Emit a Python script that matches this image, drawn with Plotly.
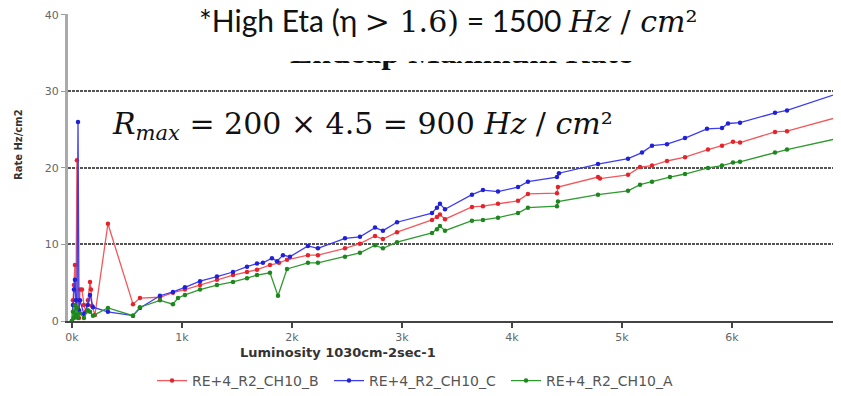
import plotly.graph_objects as go

# ---------------- data ----------------
lumi_B = [0, 9, 18, 27, 36, 45, 55, 64, 73, 91, 109, 127, 145, 164, 173, 182, 209, 327, 555, 618,
          800, 918, 1027, 1164, 1318, 1464, 1591, 1682, 1800, 1882, 1955, 2145, 2236, 2482, 2618,
          2755, 2827, 2955, 3273, 3318, 3345, 3391, 3636, 3736, 3873, 4055, 4145, 4409, 4418,
          4782, 4800, 5055, 5164, 5273, 5409, 5573, 5782, 5909, 6009, 6073, 6391, 6500, 6982]
rate_B = [0, 2.7, 4.7, 7.3, 1.4, 21.0, 2.7, 0.4, 4.1, 4.1, 2.1, 1.2, 2.7, 5.1, 4.1, 2.0, 0.8, 12.7, 2.2, 3.0,
          3.1, 3.7, 4.1, 4.7, 5.4, 6.0, 6.4, 6.7, 7.3, 7.6, 8.0, 8.6, 8.6, 9.5, 10.1,
          11.1, 10.7, 11.6, 13.2, 13.6, 13.9, 13.3, 14.9, 15.0, 15.3, 15.7, 16.6, 16.7, 17.5,
          18.8, 18.6, 19.1, 20.1, 20.3, 20.9, 21.4, 22.4, 22.9, 23.4, 23.3, 24.7, 24.8, 26.7]

lumi_C = [0, 9, 18, 27, 36, 45, 55, 64, 73, 109, 145, 164, 191, 327, 555, 618,
          800, 918, 1027, 1164, 1318, 1464, 1591, 1682, 1736, 1818, 1864, 1918, 1982, 2145, 2236,
          2482, 2618, 2755, 2827, 2955, 3273, 3318, 3345, 3391, 3636, 3736, 3873, 4055, 4145,
          4409, 4427, 4782, 5055, 5182, 5273, 5409, 5573, 5773, 5909, 5964, 6073, 6391, 6500, 6982]
rate_C = [0, 2.1, 4.1, 5.4, 2.7, 1.2, 26.0, 1.4, 2.7, 0.9, 2.1, 3.4, 1.8, 1.2, 0.7, 1.7,
          3.3, 3.8, 4.4, 5.2, 5.8, 6.4, 7.1, 7.5, 7.6, 8.2, 7.8, 8.6, 8.4, 9.8, 9.5,
          10.8, 11.0, 12.2, 11.8, 12.9, 14.1, 14.8, 15.3, 14.6, 16.5, 17.1, 16.9, 17.5, 18.2,
          18.8, 19.3, 20.5, 21.2, 22.0, 22.9, 23.1, 23.9, 25.1, 25.2, 25.8, 25.9, 27.2, 27.5, 29.8]

lumi_A = [0, 9, 18, 27, 36, 45, 55, 73, 109, 145, 164, 191, 327, 555, 618,
          800, 918, 964, 1027, 1164, 1318, 1464, 1591, 1682, 1800, 1873, 1955, 2145, 2236,
          2482, 2618, 2755, 2827, 2955, 3273, 3318, 3345, 3391, 3636, 3736, 3873, 4055, 4145,
          4409, 4418, 4782, 5055, 5164, 5273, 5436, 5573, 5782, 5909, 6009, 6073, 6391, 6500, 6982]
rate_A = [0, 1.2, 0.4, 2.1, 0.8, 1.7, 0.4, 1.0, 0.4, 1.4, 1.2, 0.7, 1.7, 0.7, 1.8,
          2.7, 2.2, 3.0, 3.4, 4.1, 4.7, 5.1, 5.6, 6.0, 6.3, 3.3, 6.8, 7.6, 7.6,
          8.4, 8.9, 9.9, 9.5, 10.3, 11.5, 12.0, 12.4, 11.8, 13.1, 13.2, 13.5, 14.1, 14.8,
          15.0, 15.6, 16.5, 17.0, 17.8, 18.2, 18.8, 19.2, 20.0, 20.3, 20.7, 20.8, 22.0, 22.4, 23.9]

series_names = ["RE+4_R2_CH10_B", "RE+4_R2_CH10_C", "RE+4_R2_CH10_A"]
x_tick_vals = [0, 1000, 2000, 3000, 4000, 5000, 6000]
x_tick_text = ["0k", "1k", "2k", "3k", "4k", "5k", "6k"]
y_tick_vals = [0, 10, 20, 30, 40]

# ---------------- figure ----------------
OFF = 8                      # page body margin offset
W, H = 841 - OFF, 396 - OFF
ML, MR, MT, MB = 68 - OFF, 0, 15 - OFF - 1, 75
PW, PH = W - ML - MR, H - MT - MB


def px(xs):
    """screen x -> paper x"""
    return (xs - OFF - ML) / PW


def py(ys):
    """screen y -> paper y"""
    return (H - MB - (ys - OFF)) / PH


fig = go.Figure()
styles = [
    (lumi_B, rate_B, "#f2585c", "#e3242b"),
    (lumi_C, rate_C, "#3c3cf0", "#2020d8"),
    (lumi_A, rate_A, "#2f9a2f", "#1d861d"),
]
for name, (xs, ys, lc, mc) in zip(series_names, styles):
    fig.add_trace(go.Scatter(
        x=xs, y=ys, name=name, mode="lines+markers",
        line=dict(color=lc, width=1.3),
        marker=dict(color=mc, size=4.5),
    ))

fig.update_layout(
    width=W, height=H,
    margin=dict(l=ML, r=MR, t=MT, b=MB, autoexpand=False),
    paper_bgcolor="white", plot_bgcolor="white",
    showlegend=True,
    legend=dict(
        orientation="h", x=px(152), xanchor="left", y=py(381), yanchor="middle",
        font=dict(family="DejaVu Sans", size=14, color="#555"),
        itemwidth=30, entrywidth=132, entrywidthmode="pixels",
        bgcolor="rgba(0,0,0,0)",
    ),
    xaxis=dict(
        range=[-36, 6991], showgrid=False, zeroline=False,
        showline=True, linecolor="#444", linewidth=2,
        ticks="outside", ticklen=5, tickcolor="#444", tickwidth=1.5,
        tickvals=x_tick_vals, ticktext=x_tick_text,
        tickfont=dict(family="DejaVu Sans", size=11, color="#666"),
        automargin=False,
    ),
    yaxis=dict(
        range=[0, 40.1], showgrid=True, gridcolor="#555", gridwidth=1.6,
        griddash="3px,1px", zeroline=False,
        showline=True, linecolor="#aaa", linewidth=3,
        ticks="outside", ticklen=4, tickcolor="#999",
        tickvals=y_tick_vals,
        tickfont=dict(family="DejaVu Sans", size=11, color="#666"),
        automargin=False,
    ),
)

def note(xs, ys, text, **kw):
    d = dict(x=px(xs), y=py(ys), xref="paper", yref="paper", showarrow=False,
             xanchor="center", yanchor="middle", text=text)
    d.update(kw)
    return d

ann = []
# Axis titles
ann.append(note(338, 352, "<b>Luminosity 1030cm-2sec-1</b>",
                font=dict(family="DejaVu Sans", size=13, color="#333")))
ann.append(note(18, 145, "<b>Rate Hz/cm2</b>", textangle=-90,
                font=dict(family="DejaVu Sans", size=10, color="#333")))
# Chart title (partly hidden behind the text box)
ann.append(note(461, 51, "<b>Endcap Maximum Rate</b>",
                font=dict(family="Liberation Serif", size=33.5, color="#111")))
# White text box covering the top of the chart
ann.append(note(462, 30.5, " ", width=585, height=61, bgcolor="white",
                borderpad=0, borderwidth=0))
serif = "font-family:'DejaVu Serif'"
ann.append(note(448, 20,
                "*High Eta (η <span style=\"" + serif + "\">&gt; 1.6)</span> = 1500 "
                "<span style=\"" + serif + "\"><i>Hz</i> / <i>cm</i>²</span>",
                font=dict(family="Lato", size=30, color="#111")))
ann.append(note(362, 125,
                "<i>R</i><sub><i>max</i></sub> = 200 × 4.5 = 900 <i>Hz</i> / <i>cm</i>²",
                font=dict(family="DejaVu Serif", size=30, color="#111")))
fig.update_layout(annotations=ann)

fig.write_html("out.html")
